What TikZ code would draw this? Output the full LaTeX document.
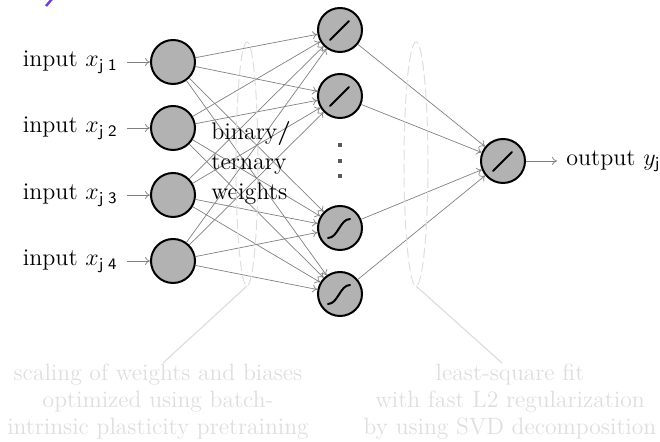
\documentclass[tikz,border=0pt]{standalone}
\usetikzlibrary{arrows.meta,calc}
\begin{document}
\begin{tikzpicture}[x=0.5pt,y=-0.5pt,
  neuron/.style={circle,draw=black,line width=1pt,fill=black!30,minimum size=22pt,inner sep=0pt},
  conn/.style={draw=black!50,line width=0.35pt,-{To[length=2.5pt,width=4pt]}},
  inlabel/.style={anchor=east,font=\fontsize{12}{14}\selectfont,inner sep=0pt},
  hull/.style={draw=black!13,dash pattern=on 5pt off 2pt,line width=0.5pt},
  pointer/.style={draw=black!13,line width=0.6pt},
  note/.style={text=black!13,align=center,font=\fontsize{11.8}{13.5}\selectfont},
  glyph/.style={line width=1pt,line cap=round}]
\useasboundingbox (0,0) rectangle (660,442);

% cut-off purple stroke at the top edge
\draw[line width=1.2pt,color={rgb,255:red,110;green,60;blue,220}] (46,6) -- (52,-1);

% input layer
\foreach \i/\y in {1/62,2/128,3/195,4/261}{
  \node[neuron] (in\i) at (173,\y) {};
  \node[inlabel] (lab\i) at (118,\y) {input $x_{\mathsf{j}\;\mathsf{\i}}$};
  \draw[conn] ($(lab\i.east)+(9,0)$) -- (in\i.west);
}

% hidden layer
\node[neuron] (h1) at (340,30) {};
\node[neuron] (h2) at (340,96) {};
\node[neuron] (h3) at (340,228) {};
\node[neuron] (h4) at (340,294) {};
\foreach \h in {1,2}{
  \draw[glyph] ($(h\h)+(-10,10)$) -- ($(h\h)+(9,-9)$);
}
\foreach \h in {3,4}{
  \draw[glyph] ($(h\h)+(-12,10)$) .. controls ($(h\h)+(-2,10)$) and ($(h\h)+(0,-9)$) .. ($(h\h)+(10,-9)$);
}
\foreach \y in {145,161,176}{
  \fill[black!65] (338,\y-2) rectangle (342,\y+2);
}

% output neuron
\node[neuron] (out) at (503,161) {};
\draw[glyph] ($(out)+(-10,10)$) -- ($(out)+(9,-9)$);
\node[anchor=west,font=\fontsize{12}{14}\selectfont,inner sep=0pt] (olab) at (566,161) {output $y_{\mathsf{j}}$};
\draw[conn] (out.east) -- ($(olab.west)+(-9,0)$);

% weights
\foreach \i in {1,...,4}{
  \foreach \h in {1,...,4}{
    \draw[conn] (in\i) -- (h\h);
  }
}
\foreach \h in {1,...,4}{
  \draw[conn] (h\h) -- (out);
}

\node[align=left,anchor=west,font=\fontsize{12}{15}\selectfont,inner sep=0pt] (bw) at (211,163) {binary\textbf{/}\\ternary\\weights};

% grouping hulls and notes
\draw[hull] (247,164) ellipse (11 and 122);
\draw[hull] (416,164) ellipse (12 and 122);
\coordinate (b1) at (247,286);
\coordinate (b2) at (416,286);
\coordinate (t1) at (163,363);
\coordinate (t2) at (502,363);
\node[note] (n1) at (158,402) {scaling of weights and biases\\optimized using batch-\\intrinsic plasticity pretraining};
\node[note] (n2) at (510,402) {least-square fit\\with fast L2 regularization\\by using SVD decomposition};
\draw[pointer] (b1) -- (t1);
\draw[pointer] (b2) -- (t2);
\end{tikzpicture}
\end{document}
